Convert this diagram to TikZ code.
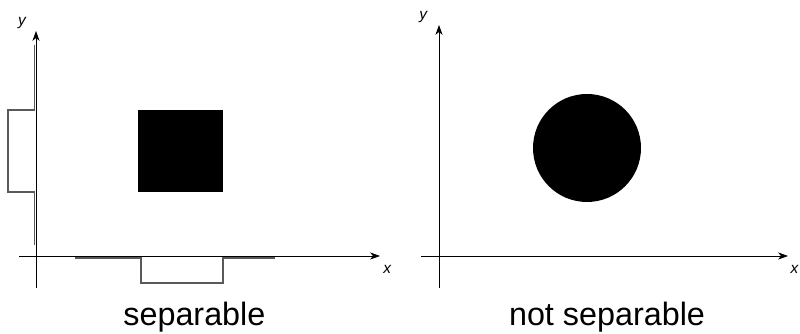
\documentclass[tikz,border=0pt]{standalone}
\usepackage{fontspec}
\setmainfont{Liberation Sans}
\usetikzlibrary{arrows.meta}

\begin{document}
\begin{tikzpicture}
[
	axis/.style={-{Stealth[length=7pt,width=5pt,inset=2pt]},line width=0.6pt},
	proj/.style={gray!70!black,line width=1.1pt},
	axlbl/.style={inner sep=0pt,font=\fontsize{11}{13}\selectfont\itshape},
	caption/.style={inner sep=0pt,font=\fontsize{23}{27}\selectfont}
]
	\useasboundingbox (0,0) rectangle (20,8.35);

	% left: separable
	\coordinate (ly0) at (0.9,1.15);
	\coordinate (ly1) at (0.9,7.575);
	\coordinate (lx0) at (0.475,1.95);
	\coordinate (lx1) at (9.5,1.95);
	\draw[axis] (ly0) -- (ly1);
	\draw[axis] (lx0) -- (lx1);
	\node[axlbl] (lylab) at (0.55,7.78) {y};
	\node[axlbl] (lxlab) at (9.68,1.62) {x};

	\fill (3.45,3.55) rectangle (5.575,5.6);

	% projections
	\draw[proj] (0.86,7.225) -- (0.86,5.6) -- (0.2,5.6) -- (0.2,3.55)
	  -- (0.86,3.55) -- (0.86,2.225);
	\draw[proj] (1.875,1.9) -- (3.52,1.9) -- (3.52,1.275) -- (5.575,1.275)
	  -- (5.575,1.9) -- (6.875,1.9);

	\node[caption] (sep) at (4.86,0.41) {separable};

	% right: not separable
	\coordinate (ry0) at (10.975,1.15);
	\coordinate (ry1) at (10.975,7.725);
	\coordinate (rx0) at (10.525,1.95);
	\coordinate (rx1) at (19.7,1.95);
	\draw[axis] (ry0) -- (ry1);
	\draw[axis] (rx0) -- (rx1);
	\node[axlbl] (rylab) at (10.58,7.93) {y};
	\node[axlbl] (rxlab) at (19.86,1.62) {x};

	\fill (14.675,4.65) circle (1.35);

	\node[caption] (nsep) at (15.175,0.41) {not separable};

\end{tikzpicture}
\end{document}
